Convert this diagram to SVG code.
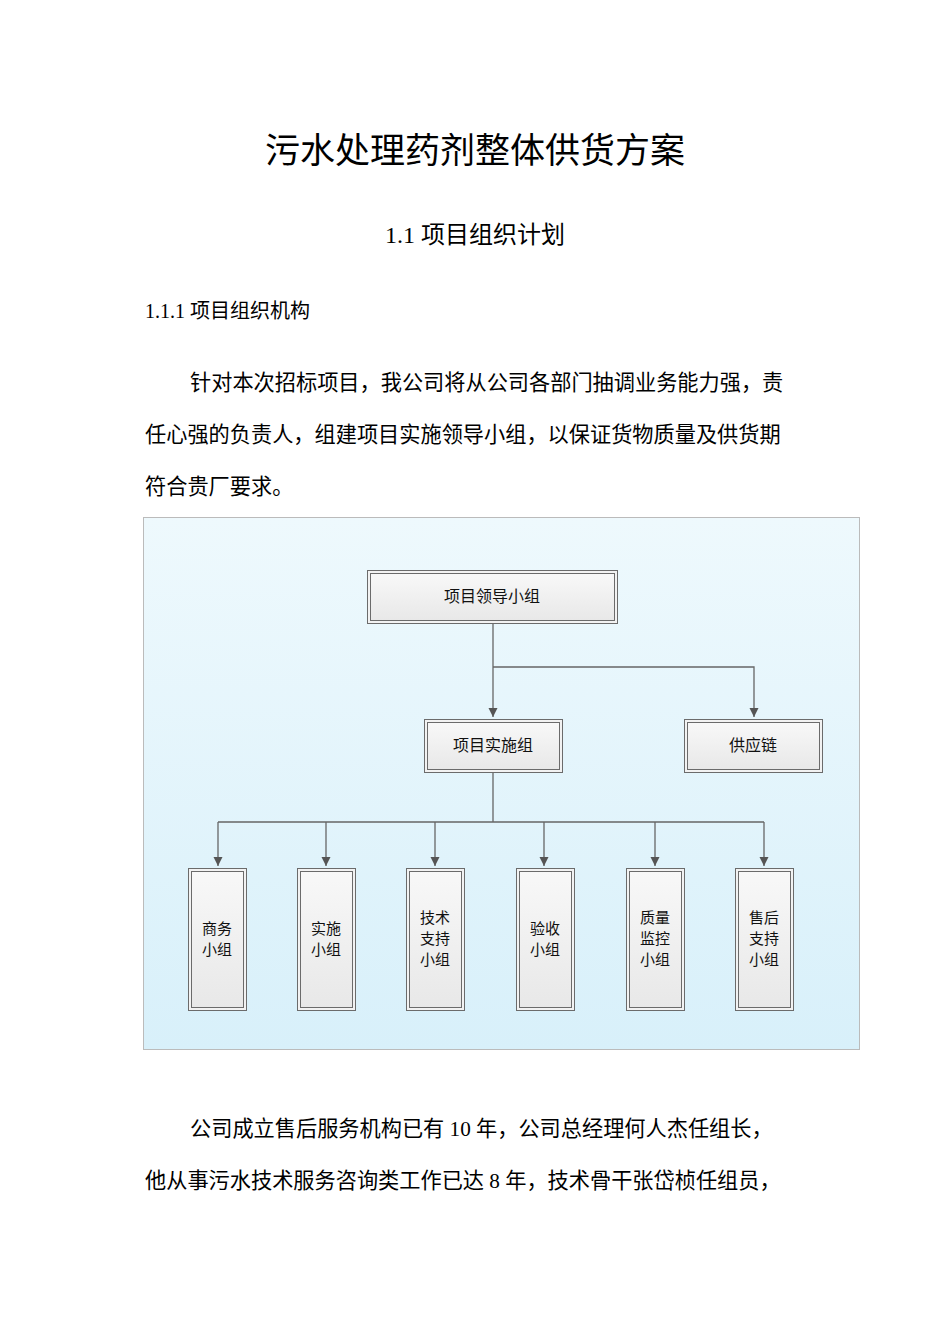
<svg xmlns="http://www.w3.org/2000/svg" width="950" height="1344" viewBox="0 0 950 1344">
<style>
.t{font-family:"Liberation Serif","Noto Sans CJK SC",serif;fill:#000}
.n{font-family:"Noto Sans CJK SC",sans-serif;font-size:16px;fill:#111;text-anchor:middle}
.m{font-family:"Noto Sans CJK SC",sans-serif;font-size:15px;fill:#111;text-anchor:middle}
.o{fill:#f2f2f2;stroke:#6b6b6b;stroke-width:1}
.i{fill:url(#bg2);stroke:#6b6b6b;stroke-width:1}
.c{fill:none;stroke:#666;stroke-width:1.3}
</style>
<defs>
<linearGradient id="bg" x1="0" y1="0" x2="0" y2="1"><stop offset="0" stop-color="#eef9fd"/><stop offset="1" stop-color="#d8f0fa"/></linearGradient>
<linearGradient id="bg2" x1="0" y1="0" x2="0" y2="1"><stop offset="0" stop-color="#f8f8f8"/><stop offset="1" stop-color="#e8e8e8"/></linearGradient>
<marker id="a" viewBox="0 0 10 10" refX="10" refY="5" markerWidth="7" markerHeight="7" orient="auto"><path d="M0,0 L10,5 L0,10 z" fill="#555"/></marker>
</defs>
<rect width="950" height="1344" fill="#fff"/>
<text class="t" x="475" y="163" font-size="35" text-anchor="middle">污水处理药剂整体供货方案</text>
<text class="t" x="475" y="243" font-size="24" text-anchor="middle">1.1  项目组织计划</text>
<text class="t" x="145" y="318" font-size="20">1.1.1  项目组织机构</text>
<text class="t" x="190" y="390" font-size="21.2">针对本次招标项目，我公司将从公司各部门抽调业务能力强，责</text>
<text class="t" x="145" y="442" font-size="21.2">任心强的负责人，组建项目实施领导小组，以保证货物质量及供货期</text>
<text class="t" x="145" y="494" font-size="21.2">符合贵厂要求。</text>
<text class="t" x="190" y="1136" font-size="21.2">公司成立售后服务机构已有 10 年，公司总经理何人杰任组长，</text>
<text class="t" x="145" y="1188" font-size="21.2">他从事污水技术服务咨询类工作已达 8 年，技术骨干张岱桢任组员，</text>
<rect x="143.5" y="517.5" width="716" height="532" fill="url(#bg)" stroke="#bbb"/>
<g id="connectors">
<path class="c" d="M493,623 V717" marker-end="url(#a)"/>
<path class="c" d="M493,667 H754 V717" marker-end="url(#a)"/>
<path class="c" d="M493,772 V822 M218,822 H764"/>
<path class="c" d="M218,822 V866" marker-end="url(#a)"/>
<path class="c" d="M326,822 V866" marker-end="url(#a)"/>
<path class="c" d="M435,822 V866" marker-end="url(#a)"/>
<path class="c" d="M544,822 V866" marker-end="url(#a)"/>
<path class="c" d="M655,822 V866" marker-end="url(#a)"/>
<path class="c" d="M764,822 V866" marker-end="url(#a)"/>
</g>
<g id="n1"><rect class="o" x="367.5" y="570.5" width="250" height="53"/><rect class="i" x="370.5" y="573.5" width="244" height="47"/><text class="n" x="492" y="602">项目领导小组</text></g>
<g id="n2"><rect class="o" x="424.5" y="719.5" width="138" height="53"/><rect class="i" x="427.5" y="722.5" width="132" height="47"/><text class="n" x="493" y="751">项目实施组</text></g>
<g id="n3"><rect class="o" x="684.5" y="719.5" width="138" height="53"/><rect class="i" x="687.5" y="722.5" width="132" height="47"/><text class="n" x="753" y="751">供应链</text></g>
<g id="b1"><rect class="o" x="188.5" y="868.5" width="58" height="142"/><rect class="i" x="191.5" y="871.5" width="52" height="136"/><text class="m" x="217" y="934">商务</text><text class="m" x="217" y="955">小组</text></g>
<g id="b2"><rect class="o" x="297.5" y="868.5" width="58" height="142"/><rect class="i" x="300.5" y="871.5" width="52" height="136"/><text class="m" x="326" y="934">实施</text><text class="m" x="326" y="955">小组</text></g>
<g id="b3"><rect class="o" x="406.5" y="868.5" width="58" height="142"/><rect class="i" x="409.5" y="871.5" width="52" height="136"/><text class="m" x="435" y="923">技术</text><text class="m" x="435" y="944">支持</text><text class="m" x="435" y="965">小组</text></g>
<g id="b4"><rect class="o" x="516.5" y="868.5" width="58" height="142"/><rect class="i" x="519.5" y="871.5" width="52" height="136"/><text class="m" x="545" y="934">验收</text><text class="m" x="545" y="955">小组</text></g>
<g id="b5"><rect class="o" x="626.5" y="868.5" width="58" height="142"/><rect class="i" x="629.5" y="871.5" width="52" height="136"/><text class="m" x="655" y="923">质量</text><text class="m" x="655" y="944">监控</text><text class="m" x="655" y="965">小组</text></g>
<g id="b6"><rect class="o" x="735.5" y="868.5" width="58" height="142"/><rect class="i" x="738.5" y="871.5" width="52" height="136"/><text class="m" x="764" y="923">售后</text><text class="m" x="764" y="944">支持</text><text class="m" x="764" y="965">小组</text></g>
</svg>
